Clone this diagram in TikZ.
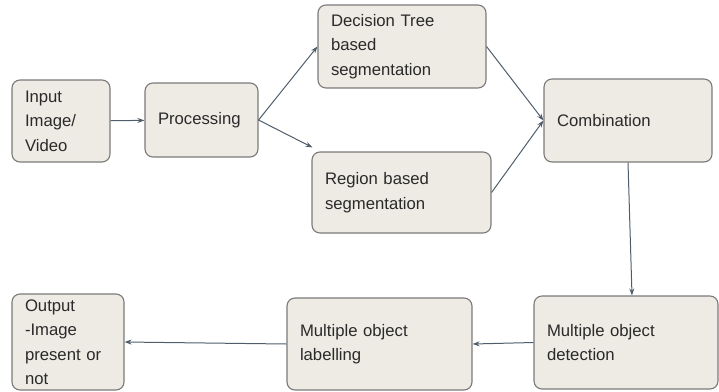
\documentclass[tikz,border=0pt]{standalone}
\usepackage{fontspec}
\setmainfont{Liberation Sans}
\usetikzlibrary{positioning}
\usetikzlibrary{arrows.meta}
\definecolor{boxfill}{HTML}{EEEBE4}
\definecolor{boxline}{HTML}{7A7A7A}
\definecolor{arrowline}{HTML}{4F5D6B}
\definecolor{boxtext}{HTML}{2A2A2A}
\tikzset{
	every node/.style = {font=\fontsize{16.7}{24.5}\selectfont, text=boxtext},
	stagebox/.style = {draw=boxline, line width=1.1pt, fill=boxfill, rounded corners=8pt,
		inner xsep=13pt, inner ysep=0pt, align=left, text width=#1},
	flow/.style = {draw=arrowline, line width=1pt, -{Stealth[length=7pt,width=5pt]}}
}

\begin{document}
\begin{tikzpicture}[x=1pt, y=-1pt]
		\useasboundingbox (0,0) rectangle (719,391);
		% top row
		\node[stagebox=72pt, minimum height=82pt] (input) at (61,121) {Input\\Image/\\Video};
		\node[stagebox=87pt, minimum height=74pt] (proc) at (201.5,120) {Processing};
		\node[stagebox=142pt, minimum height=83pt] (tree) at (402,46.5) {Decision Tree\\based\\segmentation};
		\node[stagebox=153pt, minimum height=81pt] (region) at (401.5,192.5) {Region based\\segmentation};
		\node[stagebox=142pt, minimum height=83pt] (comb) at (628,120.5) {Combination};
		% bottom row
		\node[stagebox=158pt, minimum height=93pt] (detect) at (626,342.5) {Multiple object\\detection};
		\node[stagebox=159pt, minimum height=92pt] (label) at (379.5,344) {Multiple object\\labelling};
		\node[stagebox=86pt, minimum height=96pt] (output) at (68,342) {Output\\-Image\\present or\\not};
		
		% arrows
		\draw[flow] (input) -- (proc);
		\draw[flow] (proc.east) -- (tree.west);
		\draw[flow] (proc.east) -- ([shift={(1,-4)}]region.north west);
		\draw[flow] (tree.east) -- (comb.west);
		\draw[flow] (region.east) -- (comb.west);
		\draw[flow] (comb.south) -- ([xshift=6pt]detect.north);
		\draw[flow] (detect.west) -- (label.east);
		\draw[flow] (label.west) -- (output.east);
	\end{tikzpicture}
\end{document}
